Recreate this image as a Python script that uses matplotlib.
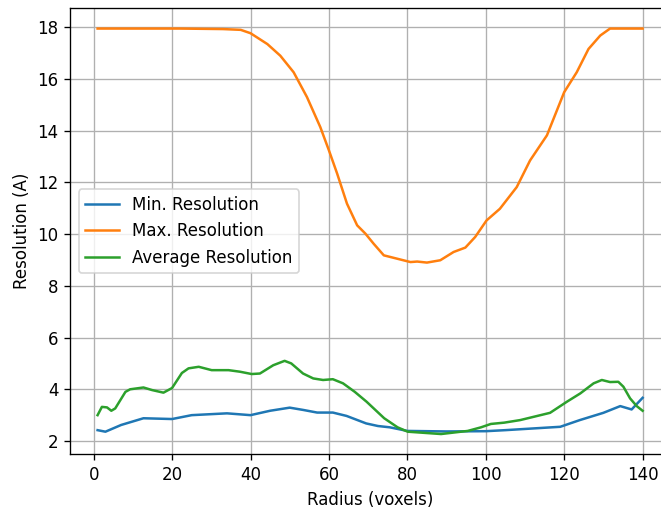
import matplotlib
matplotlib.use('Agg')
import matplotlib.pyplot as plt

# values
min_x = [1, 3, 7, 12.7, 20, 25, 34, 40, 45, 50, 53.5, 57, 61, 64.5, 69.5, 72.5,
         75.5, 80, 90, 100, 105, 119, 124, 130, 134.3, 137.2, 140]
min_res = [2.42, 2.36, 2.62, 2.88, 2.85, 3.0, 3.07, 3.0, 3.17, 3.29, 3.2, 3.1, 3.1,
           2.97, 2.68, 2.58, 2.53, 2.39, 2.37, 2.38, 2.42, 2.55, 2.81, 3.09, 3.35,
           3.22, 3.67]

max_x = [1, 22, 33, 37.5, 40, 44.3, 47.6, 51, 54.4, 57.8, 60, 62.1, 64.6, 67.2,
         69.3, 71.4, 74, 77.4, 80.8, 82.5, 85, 88.4, 91.8, 94.8, 97.3, 100.2,
         103.6, 107.9, 111.3, 115.6, 120, 123.2, 126.2, 129.2, 131.7, 140]
max_res = [17.95, 17.95, 17.93, 17.9, 17.77, 17.35, 16.9, 16.26, 15.30, 14.14,
           13.24, 12.34, 11.18, 10.34, 10.02, 9.63, 9.18, 9.05, 8.92, 8.94, 8.90,
           8.99, 9.31, 9.48, 9.89, 10.53, 10.98, 11.82, 12.85, 13.82, 15.49, 16.26,
           17.16, 17.68, 17.95, 17.95]

avg_x = [1, 2.1, 3.4, 4.5, 5.5, 8.1, 9.3, 12.7, 14.9, 17.8, 20, 22.5, 24.2, 26.8,
         30.1, 34.4, 37.3, 40.3, 42.4, 45.8, 48.7, 50.4, 53.4, 56, 58.5, 61, 63.6,
         66.6, 69.6, 74.1, 77.5, 80.1, 88.6, 95.4, 98.8, 101.3, 104.7, 108.8,
         116.4, 120.7, 124.1, 127.5, 129.6, 131.7, 133.8, 135.1, 136.8, 138.5, 140]
avg_res = [3.0, 3.32, 3.30, 3.17, 3.26, 3.90, 4.0, 4.07, 3.97, 3.87, 4.05, 4.63,
           4.81, 4.87, 4.74, 4.74, 4.68, 4.59, 4.61, 4.93, 5.10, 5.0, 4.61, 4.42,
           4.36, 4.39, 4.23, 3.90, 3.52, 2.88, 2.53, 2.36, 2.27, 2.39, 2.53, 2.66,
           2.71, 2.81, 3.09, 3.52, 3.84, 4.23, 4.36, 4.28, 4.29, 4.10, 3.65, 3.35,
           3.17]

# reference looks like it was saved at a higher dpi, so text and lines are bigger
dpi = 120
fig = plt.figure(figsize=(661 / dpi, 508 / dpi), dpi=dpi)
# the reference is cut off on the right, so the axes run past the canvas edge
ax = fig.add_axes([0.1064, 0.1057, 0.907, 0.878])

ax.plot(min_x, min_res, label='Min. Resolution')
ax.plot(max_x, max_res, label='Max. Resolution')
ax.plot(avg_x, avg_res, label='Average Resolution')

ax.set_xticks(range(0, 141, 20))
ax.set_yticks(range(2, 19, 2))
ax.set_xlabel('Radius (voxels)')
ax.set_ylabel('Resolution (A)')
ax.grid(True)
ax.legend(loc='center left')

fig.savefig('out.png', dpi=dpi)
